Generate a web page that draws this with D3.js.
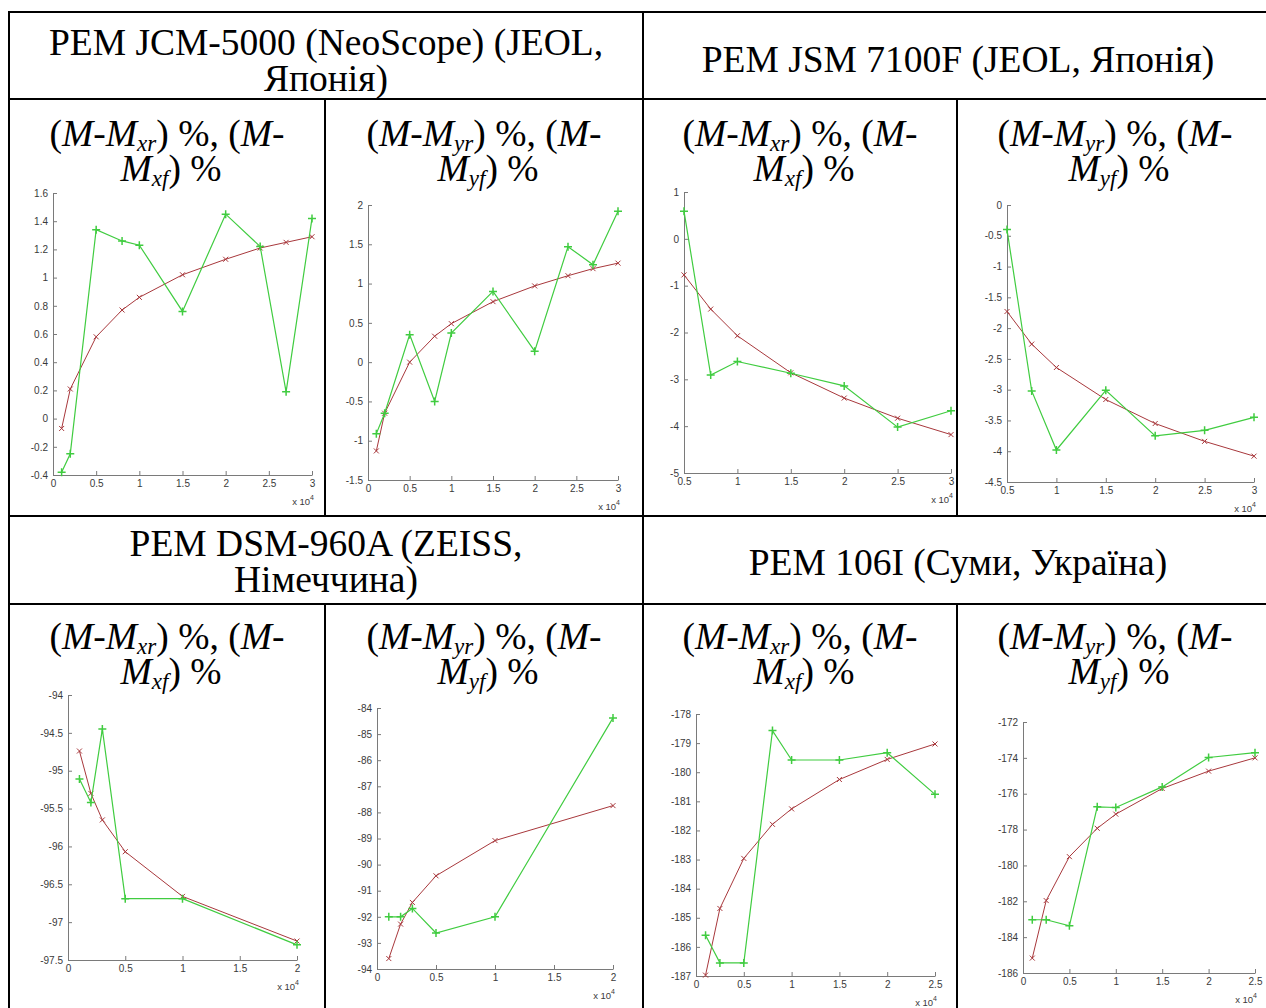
<!DOCTYPE html>
<html>
<head>
<meta charset="utf-8">
<script src="https://cdn.jsdelivr.net/npm/d3@7"></script>
<style>
  body { margin: 0; background: #fff; }
  svg { display: block; }
  .title { font-family: "Liberation Serif", "Times New Roman", serif; font-size: 37.5px; fill: #000; }
  .axis text { font-family: "Liberation Sans", Arial, sans-serif; font-size: 10px; fill: #3a3a3a; }
  .axis path, .axis line { stroke: #7a7a7a; }
  .expo { font-family: "Liberation Sans", Arial, sans-serif; font-size: 9.5px; fill: #3a3a3a; }
</style>
</head>
<body>
<div id="chart"></div>
<script>
// titles of the table
const deviceTitles = [
  ['PEM JCM-5000 (NeoScope) (JEOL,', 'Японія)'],
  ['PEM JSM 7100F (JEOL, Японія)'],
  ['PEM DSM-960A (ZEISS,', 'Німеччина)'],
  ['PEM 106I (Суми, Україна)']
];
const axisSubs = [['xr', 'xf'], ['yr', 'yf'], ['xr', 'xf'], ['yr', 'yf']];

// magnification (x values)
const magJcm = [1000, 2000, 5000, 8000, 10000, 15000, 20000, 24000, 27000, 30000];
const magJsm = [5000, 7500, 10000, 15000, 20000, 25000, 30000];
const magDsm = [1000, 2000, 3000, 5000, 10000, 20000];
const magSumy = [1000, 2500, 5000, 8000, 10000, 15000, 20000, 25000];

// red curves (r) and green curves (f), %
const jcmXr = [-0.07, 0.21, 0.58, 0.77, 0.86, 1.02, 1.13, 1.21, 1.25, 1.29];
const jcmXf = [-0.38, -0.25, 1.34, 1.26, 1.23, 0.76, 1.45, 1.22, 0.19, 1.42];
const jcmYr = [-1.13, -0.65, 0.0, 0.33, 0.49, 0.77, 0.97, 1.10, 1.19, 1.26];
const jcmYf = [-0.91, -0.65, 0.35, -0.50, 0.37, 0.90, 0.14, 1.47, 1.24, 1.92];
const jsmXr = [-0.77, -1.50, -2.07, -2.86, -3.40, -3.83, -4.18];
const jsmXf = [0.59, -2.91, -2.62, -2.87, -3.14, -4.02, -3.67];
const jsmYr = [-1.73, -2.26, -2.64, -3.16, -3.55, -3.84, -4.08];
const jsmYf = [-0.40, -3.02, -3.98, -3.01, -3.75, -3.66, -3.45];
const dsmXr = [-94.74, -95.30, -95.65, -96.07, -96.66, -97.25];
const dsmXf = [-95.11, -95.42, -94.45, -96.69, -96.69, -97.30];
const dsmYr = [-93.60, -92.28, -91.45, -90.43, -89.08, -87.74];
const dsmYf = [-92.0, -92.0, -91.68, -92.62, -92.0, -84.38];
const sumyXr = [-186.97, -184.68, -182.96, -181.79, -181.26, -180.25, -179.56, -179.03];
const sumyXf = [-185.6, -186.55, -186.55, -178.57, -179.58, -179.58, -179.33, -180.76];
const sumyYr = [-185.17, -181.96, -179.51, -177.93, -177.14, -175.71, -174.74, -174.00];
const sumyYf = [-183.03, -183.03, -183.37, -176.73, -176.77, -175.62, -173.98, -173.71];

// tick values
const ticksMag30 = [0, 5000, 10000, 15000, 20000, 25000, 30000];
const ticksMag30b = [5000, 10000, 15000, 20000, 25000, 30000];
const ticksMag20 = [0, 5000, 10000, 15000, 20000];
const ticksMag25 = [0, 5000, 10000, 15000, 20000, 25000];
const ticksJcmX = [-0.4, -0.2, 0, 0.2, 0.4, 0.6, 0.8, 1, 1.2, 1.4, 1.6];
const ticksJcmY = [-1.5, -1, -0.5, 0, 0.5, 1, 1.5, 2];
const ticksJsmX = [-5, -4, -3, -2, -1, 0, 1];
const ticksJsmY = [-4.5, -4, -3.5, -3, -2.5, -2, -1.5, -1, -0.5, 0];
const ticksDsmX = [-97.5, -97, -96.5, -96, -95.5, -95, -94.5, -94];
const ticksDsmY = [-94, -93, -92, -91, -90, -89, -88, -87, -86, -85, -84];
const ticksSumyX = [-187, -186, -185, -184, -183, -182, -181, -180, -179, -178];
const ticksSumyY = [-186, -184, -182, -180, -178, -176, -174, -172];

const W = 1266, H = 1008;
const svg = d3.select('#chart').append('svg').attr('width', W).attr('height', H);

// table rules
const rows = [12, 99, 516, 604];
const cols = [9, 325, 643, 957, 1273];
rows.forEach(y => svg.append('line').attr('x1', 8).attr('x2', W).attr('y1', y).attr('y2', y)
  .attr('stroke', '#000').attr('stroke-width', 2));
[9, 643].forEach(x => svg.append('line').attr('x1', x).attr('x2', x).attr('y1', 11).attr('y2', H)
  .attr('stroke', '#000').attr('stroke-width', 2));
[325, 957].forEach(x => {
  [[99, 516], [604, H]].forEach(s => svg.append('line').attr('x1', x).attr('x2', x)
    .attr('y1', s[0]).attr('y2', s[1]).attr('stroke', '#000').attr('stroke-width', 2));
});

// device headers
const headerPos = [
  { cx: 326, ys: [55, 91] }, { cx: 958, ys: [72] },
  { cx: 326, ys: [556, 592] }, { cx: 958, ys: [575] }
];
deviceTitles.forEach((t, i) => {
  t.forEach((s, j) => svg.append('text').attr('class', 'title').attr('text-anchor', 'middle')
    .attr('x', headerPos[i].cx).attr('y', headerPos[i].ys[j]).text(s));
});

// sub headers  (M-M..) %, (M-M..) %
function richLine(x, y, parts) {
  const t = svg.append('text').attr('class', 'title').attr('text-anchor', 'middle').attr('x', x).attr('y', y);
  let shifted = false;
  parts.forEach(p => {
    const sp = t.append('tspan').text(p[0]);
    if (p[1] === 'i') sp.attr('font-style', 'italic');
    if (p[1] === 'sub') {
      sp.attr('font-style', 'italic').attr('font-size', 23).attr('dy', 5);
      shifted = true;
    } else if (shifted) {
      sp.attr('dy', -5);
      shifted = false;
    }
  });
}
[0, 1].forEach(r => {
  const base = r === 0 ? 146 : 649;
  cols.slice(0, 4).forEach((c, k) => {
    const cx = (c + cols[k + 1]) / 2;
    const s = axisSubs[k];
    richLine(cx, base, [['(', ''], ['M', 'i'], ['-', ''], ['M', 'i'], [s[0], 'sub'], [') %, (', ''], ['M', 'i'], ['-', '']]);
    richLine(cx + 4, base + 35, [['M', 'i'], [s[1], 'sub'], [') %', '']]);
  });
});

// panels
const panels = [
  { mag: magJcm, r: jcmXr, f: jcmXf, xd: [0, 30000], yd: [-0.4, 1.6], xt: ticksMag30, yt: ticksJcmX, box: [53, 312, 193, 475] },
  { mag: magJcm, r: jcmYr, f: jcmYf, xd: [0, 30000], yd: [-1.5, 2], xt: ticksMag30, yt: ticksJcmY, box: [368, 618, 205, 480] },
  { mag: magJsm, r: jsmXr, f: jsmXf, xd: [5000, 30000], yd: [-5, 1], xt: ticksMag30b, yt: ticksJsmX, box: [684, 951, 192, 473] },
  { mag: magJsm, r: jsmYr, f: jsmYf, xd: [5000, 30000], yd: [-4.5, 0], xt: ticksMag30b, yt: ticksJsmY, box: [1007, 1254, 205, 482] },
  { mag: magDsm, r: dsmXr, f: dsmXf, xd: [0, 20000], yd: [-97.5, -94], xt: ticksMag20, yt: ticksDsmX, box: [68, 297, 695, 960] },
  { mag: magDsm, r: dsmYr, f: dsmYf, xd: [0, 20000], yd: [-94, -84], xt: ticksMag20, yt: ticksDsmY, box: [377, 613, 708, 969] },
  { mag: magSumy, r: sumyXr, f: sumyXf, xd: [0, 25000], yd: [-187, -178], xt: ticksMag25, yt: ticksSumyX, box: [696, 935, 714, 976] },
  { mag: magSumy, r: sumyYr, f: sumyYf, xd: [0, 25000], yd: [-186, -172], xt: ticksMag25, yt: ticksSumyY, box: [1023, 1255, 722, 973] }
];

const redColor = '#a8383c';
const greenColor = '#40cc40';

panels.forEach(p => {
  const [left, right, top, bottom] = p.box;
  const x = d3.scaleLinear().domain(p.xd).range([left, right]);
  const y = d3.scaleLinear().domain(p.yd).range([bottom, top]);
  const g = svg.append('g');

  g.append('g').attr('class', 'axis').attr('transform', 'translate(0,' + bottom + ')')
    .call(d3.axisBottom(x).tickValues(p.xt).tickFormat(d => String(d / 10000))
      .tickSizeInner(-4).tickSizeOuter(0).tickPadding(5));
  g.append('g').attr('class', 'axis').attr('transform', 'translate(' + left + ',0)')
    .call(d3.axisLeft(y).tickValues(p.yt).tickFormat(d => String(+d.toFixed(2)))
      .tickSizeInner(-4).tickSizeOuter(0).tickPadding(5));

  const expo = g.append('text').attr('class', 'expo').attr('text-anchor', 'end')
    .attr('x', right + 2).attr('y', bottom + 30);
  expo.append('tspan').text('x 10');
  expo.append('tspan').attr('font-size', 7).attr('dy', -5).text('4');

  const line = d3.line().x((d, i) => x(p.mag[i])).y(d => y(d));

  // red (x markers)
  g.append('path').datum(p.r).attr('d', line).attr('fill', 'none')
    .attr('stroke', redColor).attr('stroke-width', 1);
  g.selectAll('.mx').data(p.r).enter().append('path')
    .attr('d', (d, i) => {
      const cx = x(p.mag[i]), cy = y(d), s = 2.5;
      return 'M' + (cx - s) + ',' + (cy - s) + 'L' + (cx + s) + ',' + (cy + s) +
        'M' + (cx - s) + ',' + (cy + s) + 'L' + (cx + s) + ',' + (cy - s);
    })
    .attr('stroke', redColor).attr('stroke-width', 1);

  // green (+ markers)
  g.append('path').datum(p.f).attr('d', line).attr('fill', 'none')
    .attr('stroke', greenColor).attr('stroke-width', 1.2);
  g.selectAll('.mp').data(p.f).enter().append('path')
    .attr('d', (d, i) => {
      const cx = x(p.mag[i]), cy = y(d), s = 4;
      return 'M' + (cx - s) + ',' + cy + 'L' + (cx + s) + ',' + cy +
        'M' + cx + ',' + (cy - s) + 'L' + cx + ',' + (cy + s);
    })
    .attr('stroke', greenColor).attr('stroke-width', 1.5);
});
</script>
</body>
</html>
